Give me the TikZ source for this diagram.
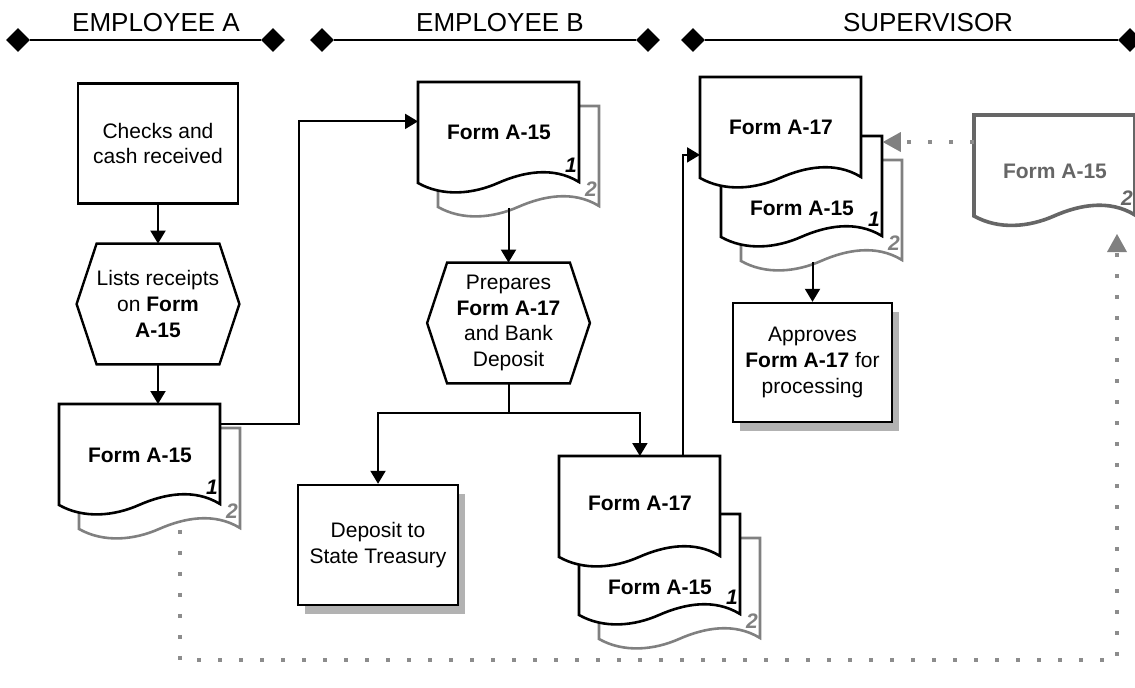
\documentclass[tikz,border=0pt]{standalone}
\usepackage{fontspec}
\setmainfont{Liberation Sans}
\usetikzlibrary{arrows.meta,shapes.geometric,shadows,calc}
\tikzset{
  lanettl/.style={font=\fontsize{13}{15}\selectfont, inner sep=0pt},
  lanetip/.style={diamond, fill=black, inner sep=0pt, minimum width=12pt, minimum height=12pt},
  laneline/.style={line width=1.2pt},
  stepbox/.style={
    draw=black,
    line width=1.2pt,
    fill=white,
    minimum width=80pt,
    minimum height=60pt,
    inner sep=2pt,
    align=center,
    font=\fontsize{10.5}{12.8}\selectfont
  },
  shadebox/.style={stepbox, drop shadow={shadow xshift=3.5pt, shadow yshift=-4.5pt, fill=black!30, opacity=1}},
  hexstep/.style={minimum width=81pt, minimum height=60pt, inner sep=0pt, align=center, font=\fontsize{10.5}{12.8}\selectfont},
  hexline/.style={draw=black, line width=1.2pt},
  docbody/.style={minimum width=80.5pt, minimum height=50.5pt, inner sep=0pt},
  docline/.style={line width=1.3pt, fill=white},
  doclbl/.style={font=\fontsize{10.5}{12.8}\selectfont\bfseries, inner sep=0pt},
  docnum/.style={font=\fontsize{10.5}{12}\selectfont\bfseries\itshape, inner sep=0pt},
  flow/.style={line width=1pt, -{Triangle[width=7.5pt,length=6.5pt]}},
  dotflow/.style={draw=black!45, line width=2pt, dash pattern=on 2pt off 8.5pt,
    -{Triangle[width=10pt,length=9pt,fill=black!50,line width=0pt]}},
}
% one sheet of a form: name, x, y (top left), colour, label, label y, copy number
\newcommand{\FormDoc}[7]{%
  \begin{scope}[shift={(#2,#3)}]
    \path[docline, draw=#4] (0,0) -- (161,0) -- (161,100)
      .. controls (135,84) and (105,90) .. (80,101)
      .. controls (55,112) and (25,115) .. (0,101) -- cycle;
    \node[doclbl, text=#4] (#1l) at (81,#6) {#5};
    \node[docnum, text=#4] (#1n) at (153,83) {#7};
  \end{scope}
  \node[docbody, anchor=north west] (#1) at (#2,#3) {};
}
% process step drawn as a hexagon round a text node
\newcommand{\HexStep}[4]{%
  \node[hexstep] (#1) at (#2,#3) {#4};
  \draw[hexline] (#1.west) -- ([xshift=10pt]#1.north west) -- ([xshift=-10pt]#1.north east)
    -- (#1.east) -- ([xshift=-10pt]#1.south east) -- ([xshift=10pt]#1.south west) -- cycle;
}

\begin{document}
\begin{tikzpicture}[x=0.5pt, y=-0.5pt]
  \useasboundingbox (0,0) rectangle (1135,687);

  % lane headers
  \foreach \nm/\xl/\xr/\xt/\ttl in {A/18/273/156/EMPLOYEE A, B/322/648/500/EMPLOYEE B, S/693/1130/928/SUPERVISOR} {
    \node[lanetip] (lane\nm l) at (\xl,40) {};
    \node[lanetip] (lane\nm r) at (\xr,40) {};
    \draw[laneline] (lane\nm l) -- (lane\nm r);
    \node[lanettl] (lane\nm t) at (\xt,22.5) {\ttl};
  }

  % employee A
  \node[stepbox] (chk) at (158,143.5) {Checks and\\cash received};
  \HexStep{lst}{158}{304}{Lists receipts\\on \textbf{Form}\\\textbf{A-15}}
  \FormDoc{fAc}{79}{428}{black!50}{}{50}{2}
  \FormDoc{fA}{59}{404}{black}{Form A-15}{51}{1}

  % employee B
  \FormDoc{fBc}{438}{106}{black!50}{}{50}{2}
  \FormDoc{fB}{418}{82}{black}{Form A-15}{50}{1}
  \HexStep{prep}{508.5}{323}{Prepares\\\textbf{Form A-17}\\and Bank\\Deposit}
  \node[shadebox] (dep) at (378,545) {Deposit to\\State Treasury};
  \FormDoc{b2c}{599}{538}{black!50}{}{50}{2}
  \FormDoc{b15}{579}{514}{black}{Form A-15}{73}{1}
  \FormDoc{b17}{559}{456}{black}{Form A-17}{47}{}
  \coordinate (jB) at (508.5,413);

  % supervisor
  \FormDoc{s2c}{741}{160}{black!50}{}{50}{2}
  \FormDoc{s15}{721}{136}{black}{Form A-15}{72}{1}
  \FormDoc{s17}{700}{77}{black}{Form A-17}{50}{}
  \node[shadebox, minimum width=79.5pt, minimum height=59.5pt] (apr) at (812.5,362.5)
    {Approves\\\textbf{Form A-17} for\\processing};
  \begin{scope}[docline/.append style={line width=1.8pt}]
    \FormDoc{rd}{974}{115}{black!60}{Form A-15}{56}{2}
  \end{scope}

  % flows
  \draw[flow] (chk) -- (lst);
  \draw[flow] (lst.south) -- (lst.south |- fA.north);
  \draw[flow] ([yshift=15.5pt]fA.east) -- ++(78,0) |- ([yshift=5.75pt]fB.west);
  \draw[flow] (fBc.south -| prep.north) -- (prep.north);
  \draw[line width=1pt] (prep.south) -- (jB);
  \draw[flow] (jB) -| (dep.north);
  \draw[flow] (jB) -| (b17.north);
  \draw[flow] ([xshift=-19pt]b17.north east) |- ([yshift=-13.5pt]s17.west);
  \draw[flow] (s2c.south -| apr.north) -- (apr.north);

  % copy 2 routed back to the supervisor
  \coordinate (rdin) at ([yshift=-13.5pt]rd.north west);
  \draw[dotflow] (rdin) -- (rdin -| s15.east);
  \coordinate (rdup) at (1117,234);
  \coordinate (loopb) at (180,660);
  \draw[dotflow] ([xshift=10.25pt]fAc.south) |- (loopb -| rdup) -- (rdup);
\end{tikzpicture}
\end{document}
